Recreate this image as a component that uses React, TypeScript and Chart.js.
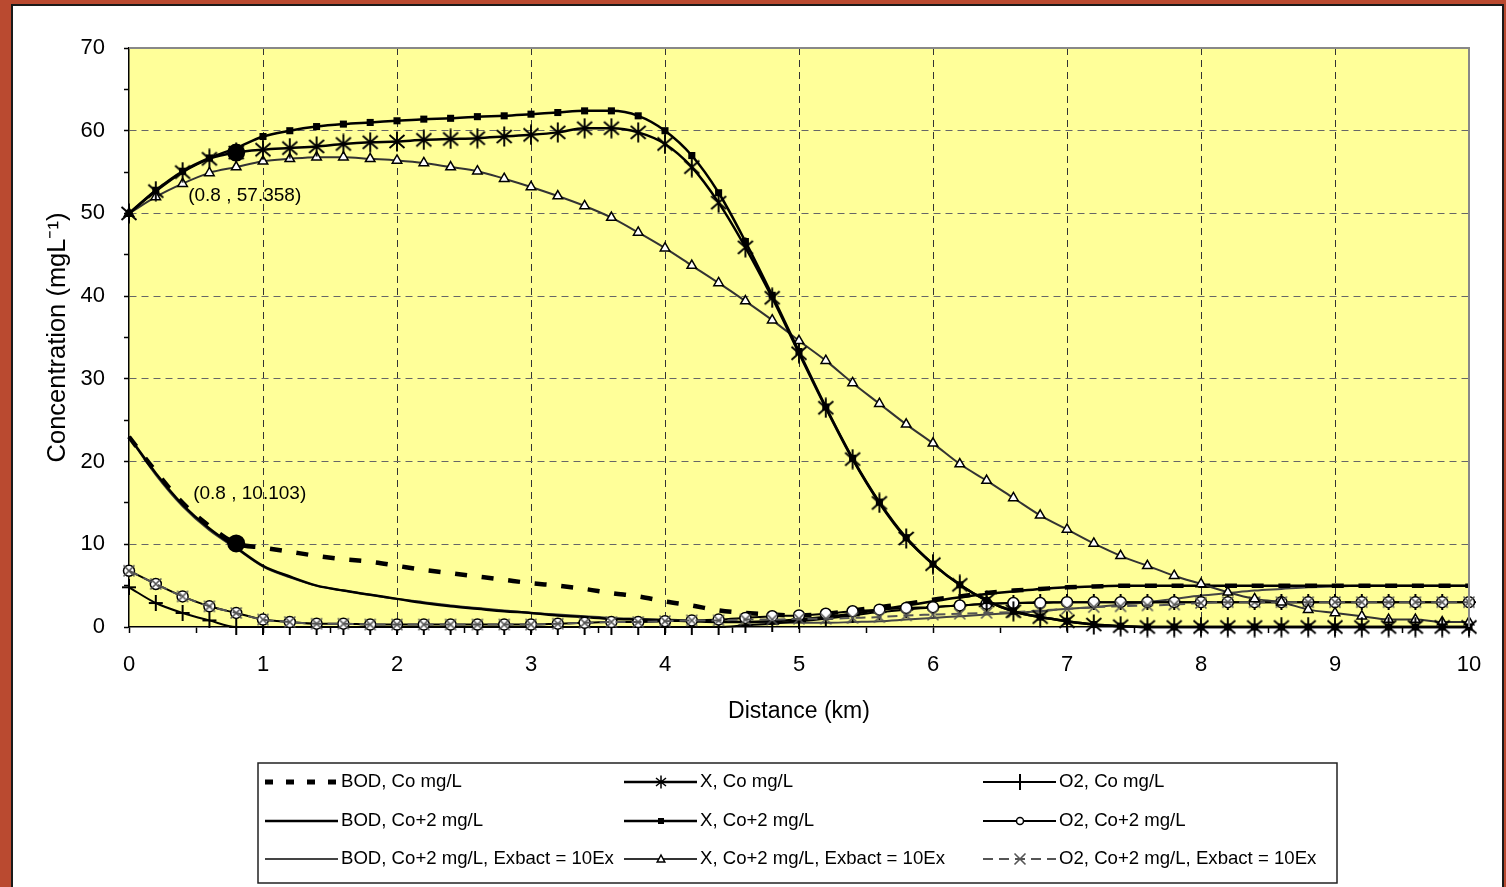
import React, { useEffect, useRef } from "react";
import { Chart, registerables } from "chart.js";

Chart.register(...registerables);

// ---------- data ----------
const distanceKm = [0, 0.2, 0.4, 0.6, 0.8, 1, 1.2, 1.4, 1.6, 1.8, 2, 2.2, 2.4, 2.6, 2.8, 3, 3.2, 3.4, 3.6, 3.8, 4, 4.2, 4.4, 4.6, 4.8, 5, 5.2, 5.4, 5.6, 5.8, 6, 6.2, 6.4, 6.6, 6.8, 7, 7.2, 7.4, 7.6, 7.8, 8, 8.2, 8.4, 8.6, 8.8, 9, 9.2, 9.4, 9.6, 9.8, 10];

const bodCo = [23.0, 18.8, 15.0, 12.2, 10.103, 9.6, 9.1, 8.6, 8.2, 7.9, 7.4, 6.9, 6.5, 6.1, 5.7, 5.3, 5.0, 4.6, 4.1, 3.7, 3.1, 2.6, 2.0, 1.7, 1.5, 1.4, 1.6, 2.0, 2.4, 2.8, 3.3, 3.7, 4.1, 4.4, 4.6, 4.8, 4.9, 5.0, 5.0, 5.0, 5.0, 5.0, 5.0, 5.0, 5.0, 5.0, 5.0, 5.0, 5.0, 5.0, 5.0];
const bodCo2 = [23.0, 18.6, 14.8, 11.9, 9.6, 7.4, 6.1, 5.0, 4.4, 3.9, 3.4, 2.9, 2.5, 2.2, 1.9, 1.7, 1.4, 1.2, 1.0, 0.9, 0.8, 0.7, 0.6, 0.6, 0.7, 0.9, 1.2, 1.6, 2.1, 2.6, 3.1, 3.6, 4.0, 4.3, 4.6, 4.8, 4.9, 5.0, 5.0, 5.0, 5.0, 5.0, 5.0, 5.0, 5.0, 5.0, 5.0, 5.0, 5.0, 5.0, 5.0];
const bodEx = [23.0, 18.4, 14.6, 11.7, 9.5, 7.3, 6.0, 5.0, 4.4, 3.9, 3.4, 3.0, 2.6, 2.3, 2.0, 1.7, 1.5, 1.3, 1.1, 1.0, 0.9, 0.8, 0.7, 0.6, 0.5, 0.5, 0.5, 0.6, 0.7, 0.9, 1.1, 1.3, 1.5, 1.7, 1.9, 2.2, 2.4, 2.7, 3.0, 3.4, 3.8, 4.1, 4.4, 4.6, 4.8, 4.9, 5.0, 5.0, 5.0, 5.0, 5.0];

const xCo = [50.0, 52.7, 55.0, 56.6, 57.358, 57.7, 57.9, 58.1, 58.4, 58.6, 58.7, 58.9, 59.0, 59.1, 59.3, 59.5, 59.8, 60.3, 60.3, 59.8, 58.4, 55.6, 51.3, 45.9, 39.8, 33.1, 26.5, 20.3, 15.0, 10.7, 7.6, 5.1, 3.2, 1.9, 1.2, 0.7, 0.3, 0.1, 0, 0, 0, 0, 0, 0, 0, 0, 0, 0, 0, 0, 0];
const xCo2 = [50.0, 52.8, 55.1, 56.7, 57.9, 59.3, 60.0, 60.5, 60.8, 61.0, 61.2, 61.4, 61.5, 61.7, 61.8, 62.0, 62.2, 62.4, 62.4, 61.8, 60.0, 57.0, 52.5, 46.6, 40.1, 33.3, 26.6, 20.4, 15.1, 10.8, 7.6, 5.1, 3.2, 1.9, 1.2, 0.7, 0.3, 0.1, 0, 0, 0, 0, 0, 0, 0, 0, 0, 0, 0, 0, 0];
const xEx = [50.0, 52.0, 53.6, 54.9, 55.6, 56.3, 56.6, 56.8, 56.8, 56.6, 56.4, 56.1, 55.6, 55.1, 54.2, 53.2, 52.1, 50.9, 49.5, 47.7, 45.8, 43.7, 41.6, 39.4, 37.1, 34.6, 32.2, 29.5, 27.0, 24.5, 22.2, 19.7, 17.7, 15.6, 13.5, 11.8, 10.1, 8.6, 7.4, 6.2, 5.2, 4.2, 3.4, 3.0, 2.1, 1.7, 1.3, 0.9, 0.9, 0.6, 0.6];

const o2Co = [4.8, 2.9, 1.7, 0.8, 0, 0, 0, 0, 0, 0, 0, 0, 0, 0, 0, 0, 0, 0, 0, 0, 0, 0, 0, 0.2, 0.4, 0.7, 1.0, 1.4, 1.8, 2.1, 2.4, 2.6, 2.8, 2.9, 3.0, 3.0, 3.0, 3.0, 3.0, 3.0, 3.0, 3.0, 3.0, 3.0, 3.0, 3.0, 3.0, 3.0, 3.0, 3.0, 3.0];
const o2Co2 = [6.8, 5.2, 3.7, 2.5, 1.7, 0.9, 0.6, 0.4, 0.4, 0.3, 0.3, 0.3, 0.3, 0.3, 0.3, 0.3, 0.4, 0.5, 0.6, 0.6, 0.7, 0.8, 0.9, 1.1, 1.3, 1.4, 1.6, 1.9, 2.1, 2.3, 2.4, 2.6, 2.8, 2.9, 2.9, 3.0, 3.0, 3.0, 3.0, 3.0, 3.0, 3.0, 3.0, 3.0, 3.0, 3.0, 3.0, 3.0, 3.0, 3.0, 3.0];
const o2Ex = [6.8, 5.2, 3.7, 2.5, 1.7, 0.9, 0.6, 0.4, 0.4, 0.3, 0.3, 0.3, 0.3, 0.3, 0.3, 0.3, 0.4, 0.5, 0.6, 0.6, 0.7, 0.8, 0.8, 0.9, 0.9, 1.0, 1.0, 1.1, 1.2, 1.4, 1.5, 1.6, 1.7, 1.8, 2.0, 2.2, 2.4, 2.5, 2.6, 2.7, 2.9, 3.0, 3.0, 3.0, 3.0, 3.0, 3.0, 3.0, 3.0, 3.0, 3.0];

const markX = [0.8, 0.8];
const markY = [57.358, 10.103];
const markLabels = ["(0.8 , 57.358)", "(0.8 , 10.103)"];

const seriesLabels = [
  "BOD, Co mg/L",
  "X, Co mg/L",
  "O2, Co mg/L",
  "BOD, Co+2 mg/L",
  "X, Co+2 mg/L",
  "O2, Co+2 mg/L",
  "BOD, Co+2 mg/L, Exbact = 10Ex",
  "X, Co+2 mg/L, Exbact = 10Ex",
  "O2, Co+2 mg/L, Exbact = 10Ex",
];

const xTickStep = 0.5;
const yTickStep = 5;

const FONT = '"Liberation Sans", Arial, Helvetica, sans-serif';

function toPoints(vals: number[]) {
  return distanceKm.map((d, i) => ({ x: d, y: vals[i] }));
}

function markerCanvas(w: number, h: number, draw: (g: CanvasRenderingContext2D) => void) {
  const c = document.createElement("canvas");
  c.width = w;
  c.height = h;
  const g = c.getContext("2d")!;
  draw(g);
  return c;
}

export default function App() {
  const ref = useRef<HTMLCanvasElement>(null);

  useEffect(() => {
    const asterisk = markerCanvas(18, 21, (g) => {
      g.strokeStyle = "#000";
      g.lineWidth = 1.9;
      g.beginPath();
      g.moveTo(9, 0.5); g.lineTo(9, 20.5);
      g.moveTo(1.5, 4); g.lineTo(16.5, 17);
      g.moveTo(16.5, 4); g.lineTo(1.5, 17);
      g.stroke();
    });
    const asteriskSmall = markerCanvas(12, 14, (g) => {
      g.strokeStyle = "#000";
      g.lineWidth = 1.5;
      g.beginPath();
      g.moveTo(6, 0.5); g.lineTo(6, 13.5);
      g.moveTo(1, 3); g.lineTo(11, 11);
      g.moveTo(11, 3); g.lineTo(1, 11);
      g.stroke();
    });
    const plus = markerCanvas(16, 16, (g) => {
      g.strokeStyle = "#000";
      g.lineWidth = 2;
      g.beginPath();
      g.moveTo(8, 0); g.lineTo(8, 16);
      g.moveTo(1, 8); g.lineTo(15, 8);
      g.stroke();
    });
    const cross = markerCanvas(14, 14, (g) => {
      g.strokeStyle = "#555";
      g.lineWidth = 1.6;
      g.beginPath();
      g.moveTo(1.5, 1.5); g.lineTo(12.5, 12.5);
      g.moveTo(12.5, 1.5); g.lineTo(1.5, 12.5);
      g.stroke();
    });

    const common = {
      cubicInterpolationMode: "monotone" as const,
      clip: false as any,
      pointHoverRadius: 0,
    };

    const datasets: any[] = [
      {
        label: "marks",
        data: markX.map((x, i) => ({ x, y: markY[i] })),
        showLine: false,
        pointRadius: 9,
        pointBackgroundColor: "#000",
        pointBorderColor: "#000",
        pointBorderWidth: 0,
        clip: false,
      },
      { ...common, label: seriesLabels[1], data: toPoints(xCo), borderColor: "#000", borderWidth: 2.5, pointStyle: asterisk, pointRadius: 6, legendMarker: asteriskSmall },
      { ...common, label: seriesLabels[4], data: toPoints(xCo2), borderColor: "#000", borderWidth: 2.5, pointStyle: "rect", pointRadius: 5, pointBackgroundColor: "#000", pointBorderColor: "#000", pointBorderWidth: 0 },
      { ...common, label: seriesLabels[7], data: toPoints(xEx), borderColor: "#333", borderWidth: 2, pointStyle: "triangle", pointRadius: 5.5, pointBackgroundColor: "#fff", pointBorderColor: "#000", pointBorderWidth: 1.5 },
      { ...common, label: seriesLabels[8], data: toPoints(o2Ex), borderColor: "#555", borderWidth: 2, borderDash: [10, 6], pointStyle: cross, pointRadius: 5 },
      { ...common, label: seriesLabels[5], data: toPoints(o2Co2), borderColor: "#000", borderWidth: 2, pointStyle: "circle", pointRadius: 5.5, pointBackgroundColor: "#fff", pointBorderColor: "#000", pointBorderWidth: 1.5 },
      { ...common, label: seriesLabels[2], data: toPoints(o2Co), borderColor: "#000", borderWidth: 2, pointStyle: plus, pointRadius: 5 },
      { ...common, label: seriesLabels[0], data: toPoints(bodCo), borderColor: "#000", borderWidth: 4.5, borderDash: [12, 14.7], pointRadius: 0, legendDash: [8, 13], legendWidth: 5 },
      { ...common, label: seriesLabels[3], data: toPoints(bodCo2), borderColor: "#000", borderWidth: 2.5, pointRadius: 0 },
      { ...common, label: seriesLabels[6], data: toPoints(bodEx), borderColor: "#444", borderWidth: 2, pointRadius: 0 },
    ];

    const drawLegendMarker = (ctx: CanvasRenderingContext2D, ds: any, x: number, y: number) => {
      const style = ds.legendMarker || ds.pointStyle;
      if (!style || !ds.pointRadius) return;
      if (typeof style !== "string") {
        ctx.drawImage(style, x - style.width / 2, y - style.height / 2);
        return;
      }
      ctx.save();
      ctx.fillStyle = ds.pointBackgroundColor || "#000";
      ctx.strokeStyle = ds.pointBorderColor || "#000";
      ctx.lineWidth = ds.pointBorderWidth || 1;
      ctx.setLineDash([]);
      ctx.beginPath();
      if (style === "rect") {
        ctx.rect(x - 3, y - 3, 6, 6);
        ctx.fill();
      } else if (style === "circle") {
        ctx.arc(x, y, 3.5, 0, Math.PI * 2);
        ctx.fill();
        ctx.stroke();
      } else if (style === "triangle") {
        ctx.moveTo(x, y - 4);
        ctx.lineTo(x + 3.8, y + 3);
        ctx.lineTo(x - 3.8, y + 3);
        ctx.closePath();
        ctx.fill();
        ctx.stroke();
      }
      ctx.restore();
    };

    const decorPlugin = {
      id: "decor",
      beforeDraw(chart: any) {
        const { ctx, chartArea: a } = chart;
        ctx.save();
        ctx.fillStyle = "#FFFF99";
        ctx.fillRect(a.left, a.top, a.right - a.left, a.bottom - a.top);
        ctx.restore();
      },
      afterDraw(chart: any) {
        const { ctx, chartArea: a, scales } = chart;
        ctx.save();
        // top & right border of plot area
        ctx.strokeStyle = "#888";
        ctx.lineWidth = 2;
        ctx.setLineDash([]);
        ctx.beginPath();
        ctx.moveTo(a.left, a.top);
        ctx.lineTo(a.right, a.top);
        ctx.lineTo(a.right, a.bottom);
        ctx.stroke();

        // point annotations
        const offs = [
          [-48, 43],
          [-43, -50],
        ];
        ctx.font = `19px ${FONT}`;
        ctx.fillStyle = "#000";
        ctx.textAlign = "left";
        ctx.textBaseline = "middle";
        markLabels.forEach((t, i) => {
          const px = scales.x.getPixelForValue(markX[i]) + offs[i][0];
          const py = scales.y.getPixelForValue(markY[i]) + offs[i][1];
          ctx.fillText(t, px, py);
        });

        // legend
        ctx.strokeStyle = "#222";
        ctx.lineWidth = 1.5;
        ctx.strokeRect(258, 763, 1079, 120);
        const cols = [265, 624, 983];
        const rows = [782, 821, 859];
        ctx.font = `18.6px ${FONT}`;
        seriesLabels.forEach((label, k) => {
          const ds = chart.data.datasets.find((d: any) => d.label === label);
          const cx = cols[k % 3];
          const cy = rows[Math.floor(k / 3)];
          ctx.save();
          ctx.strokeStyle = ds.borderColor;
          ctx.lineWidth = ds.legendWidth || ds.borderWidth;
          ctx.setLineDash(ds.legendDash || ds.borderDash || []);
          ctx.beginPath();
          ctx.moveTo(cx, cy);
          ctx.lineTo(cx + 73, cy);
          ctx.stroke();
          ctx.restore();
          drawLegendMarker(ctx, ds, cx + 37, cy);
          ctx.fillStyle = "#000";
          ctx.fillText(label, cx + 76, cy);
        });
        ctx.restore();
      },
    };

    const chart = new Chart(ref.current!, {
      type: "line",
      data: { datasets },
      options: {
        responsive: false,
        maintainAspectRatio: false,
        devicePixelRatio: 1,
        animation: false,
        events: [],
        layout: { padding: { left: 43, top: 48, right: 37, bottom: 161.2 } },
        plugins: { legend: { display: false }, tooltip: { enabled: false } },
        scales: {
          x: {
            type: "linear",
            min: 0,
            max: 10,
            afterFit: (s: any) => {
              s.height = 98.8;
            },
            ticks: {
              stepSize: xTickStep,
              autoSkip: false,
              maxRotation: 0,
              padding: 19,
              color: "#000",
              font: { family: FONT, size: 22 },
              callback: (v: any) => (Number.isInteger(Number(v)) ? String(v) : ""),
            },
            grid: {
              color: (c: any) => {
                const v = c.tick ? c.tick.value : 0;
                return Number.isInteger(v) && v > 0 && v < 10 ? "#333" : "rgba(0,0,0,0)";
              },
              lineWidth: 1,
              tickColor: "#000",
              tickLength: 6,
              tickWidth: 1.5,
            },
            border: { color: "#000", width: 1.5, dash: [7, 5] },
            title: {
              display: true,
              text: "Distance (km)",
              color: "#000",
              font: { family: FONT, size: 23 },
              padding: { top: 0, bottom: 0 },
            },
          },
          y: {
            type: "linear",
            min: 0,
            max: 70,
            afterFit: (s: any) => {
              s.width = 86;
            },
            ticks: {
              stepSize: yTickStep,
              autoSkip: false,
              padding: 19,
              color: "#000",
              font: { family: FONT, size: 22 },
              callback: (v: any) => (Number(v) % 10 === 0 ? String(v) : ""),
            },
            grid: {
              color: (c: any) => {
                const v = c.tick ? c.tick.value : 0;
                return v % 10 === 0 && v > 0 && v < 70 ? "#666" : "rgba(0,0,0,0)";
              },
              lineWidth: 1,
              tickColor: "#000",
              tickLength: 5,
              tickWidth: 1.5,
            },
            border: { color: "#000", width: 1.5, dash: [7, 5] },
            title: {
              display: true,
              text: "Concentration (mgL\u207B\u00B9)",
              color: "#000",
              font: { family: FONT, size: 25.5 },
              padding: { top: 0, bottom: 0 },
            },
          },
        },
      } as any,
      plugins: [decorPlugin],
    });
    return () => chart.destroy();
  }, []);

  return (
    <div
      style={{
        position: "absolute",
        left: 0,
        top: 0,
        width: 1506,
        height: 887,
        background: "#BA4A30",
        overflow: "hidden",
      }}
    >
      <div
        style={{
          position: "absolute",
          left: 11,
          top: 4,
          width: 1493,
          height: 900,
          background: "#fff",
          border: "2px solid #1a1a1a",
          boxSizing: "border-box",
        }}
      />
      <canvas
        ref={ref}
        width={1506}
        height={887}
        style={{ position: "absolute", left: 0, top: 0, width: 1506, height: 887 }}
      />
    </div>
  );
}
